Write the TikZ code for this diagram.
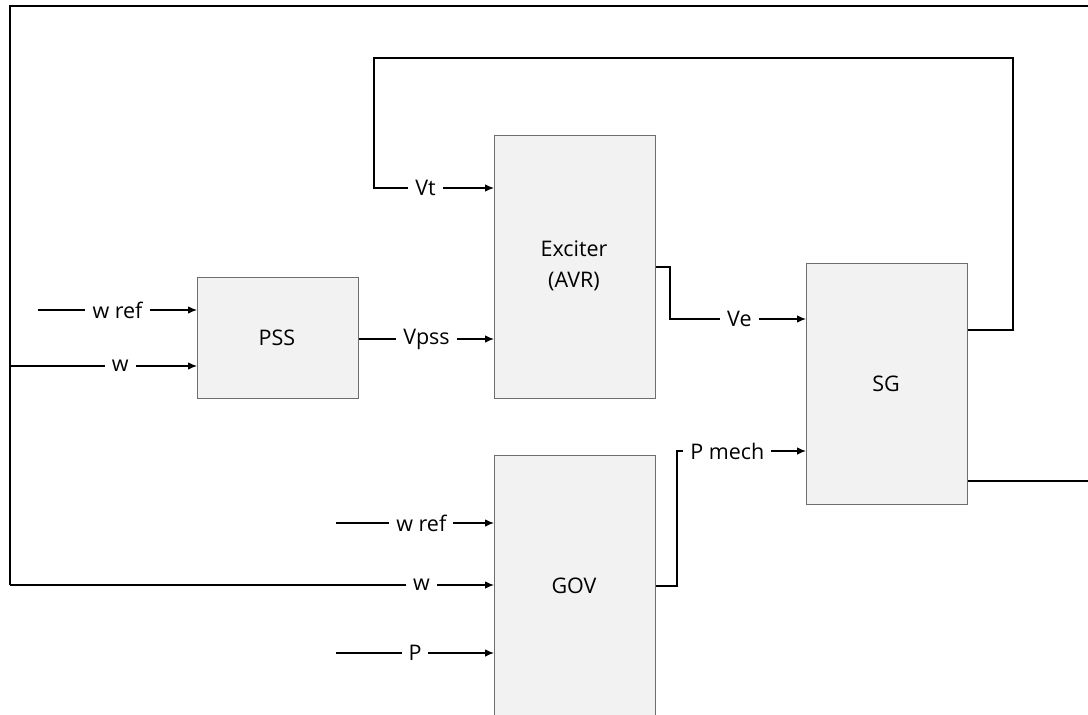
\documentclass[tikz,border=0pt]{standalone}
\usepackage{fontspec}
\setmainfont{Open Sans}
\usetikzlibrary{arrows.meta}
\definecolor{boxfill}{HTML}{F2F2F2}
\definecolor{boxedge}{HTML}{6E6E6E}
\tikzset{
  blk/.style={draw=boxedge, fill=boxfill, line width=1.1pt, anchor=north west, inner sep=0pt, align=center},
  txt/.style={align=center},
  conn/.style={draw=black, line width=1.1pt},
  arr/.style={conn, -{Latex[length=9pt,width=7.5pt]}},
  frame/.style={draw=black, line width=1.5pt},
  lbl/.style={fill=white, inner xsep=7pt, inner ysep=2pt},
}
\begin{document}
\begin{tikzpicture}[x=1pt,y=-1pt,font=\fontsize{21.5}{31}\selectfont]
\useasboundingbox (0,0) rectangle (1088,715);
\clip (0,0) rectangle (1088,715);
% blocks
\node[blk, minimum width=161pt, minimum height=263pt] (exc) at (494,135) {};
\node[txt] at (574,266) {Exciter\\(AVR)};
\node[blk, minimum width=161pt, minimum height=121pt] (pss) at (197,277) {};
\node[txt] at (277,338) {PSS};
\node[blk, minimum width=161pt, minimum height=241pt] (sg) at (806,263) {};
\node[txt] at (886,384) {SG};
\node[blk, minimum width=161pt, minimum height=262pt] (gov) at (494,455) {};
\node[txt] at (574,586) {GOV};
% free ends
\coordinate (wrefA) at (38,310);
\coordinate (wrefB) at (336,523);
\coordinate (pB) at (336,653);
\coordinate (branch) at (10,366);
% outer feedback frame
\draw[frame] (sg.east |- 0,481) -- (1100,481) -- (1100,6) -- (10,6) -- (10,585);
\draw[arr] (10,585) -- node[lbl, pos=0.85] {w} (gov.west |- 0,585);
\draw[arr] (branch) -- node[lbl, pos=0.59] {w} (pss.west |- branch);
\draw[arr] (wrefA) -- node[lbl, pos=0.5] {w ref} (pss.west |- wrefA);
% governor inputs
\draw[arr] (wrefB) -- node[lbl, pos=0.54] {w ref} (gov.west |- wrefB);
\draw[arr] (pB) -- node[lbl, pos=0.5] {P} (gov.west |- pB);
% Vt loop
\draw[arr] (sg.east |- 0,330) -- (1013,330) -- (1013,58) -- (374,58) -- (374,188)
  -- node[lbl, pos=0.43] {Vt} (exc.west |- 0,188);
% Vpss
\draw[arr] (pss.east |- 0,339) -- node[lbl, pos=0.5] {Vpss} (exc.west |- 0,339);
% Ve
\draw[arr] (exc.east |- 0,267) -- (670,267) -- (670,319) -- node[lbl, pos=0.51] {Ve} (sg.west |- 0,319);
% P mech
\draw[arr] (gov.east |- 0,586) -- (677,586) -- (677,451) -- node[lbl, pos=0.39] {P mech} (sg.west |- 0,451);
\end{tikzpicture}
\end{document}
